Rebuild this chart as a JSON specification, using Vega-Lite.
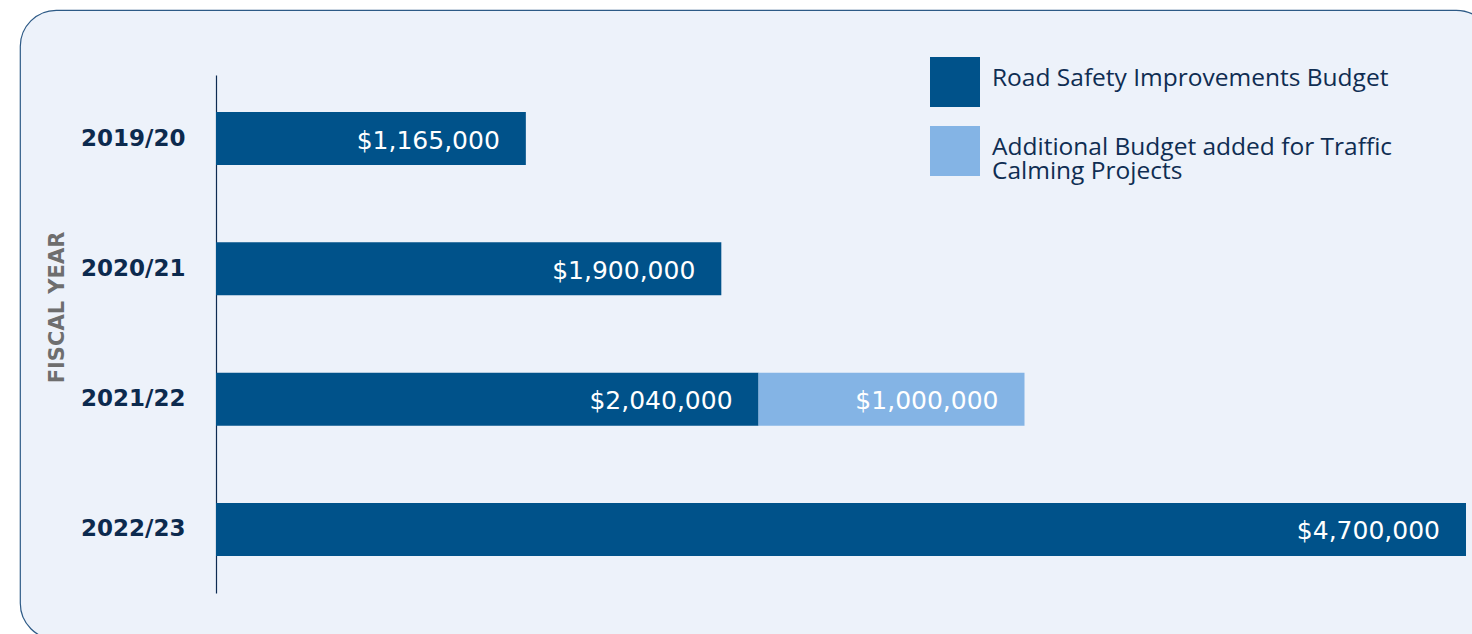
{
  "$schema": "https://vega.github.io/schema/vega-lite/v6.json",
  "width": 1472,
  "height": 629,
  "autosize": {"type": "none"},
  "padding": {"left": 20, "top": 10, "right": -20, "bottom": -5},
  "background": "#ffffff",
  "config": {
    "view": {"fill": "#edf2fa", "stroke": "#2d5a86", "strokeWidth": 1.2, "cornerRadius": 36},
    "font": "Open Sans"
  },
  "data": {
    "values": [
      {"year": "2019/20", "type": "Road Safety Improvements Budget", "amount": 1165000},
      {"year": "2020/21", "type": "Road Safety Improvements Budget", "amount": 1900000},
      {"year": "2021/22", "type": "Road Safety Improvements Budget", "amount": 2040000},
      {"year": "2021/22", "type": "Additional Budget added for Traffic Calming Projects", "amount": 1000000},
      {"year": "2022/23", "type": "Road Safety Improvements Budget", "amount": 4700000}
    ]
  },
  "encoding": {
    "y": {
      "field": "year", "type": "nominal", "sort": null,
      "scale": {"range": [65, 583], "paddingInner": 0.593, "paddingOuter": 0.284},
      "axis": {
        "title": "FISCAL YEAR", "offset": -196, "domain": true, "domainColor": "#0d2b52", "domainWidth": 1.2,
        "ticks": false, "grid": false, "labelPadding": 31, "labelFont": "DejaVu Sans", "labelFontSize": 23, "labelFontWeight": "bold",
        "labelColor": "#0c2a4e", "titleColor": "#6e6e6e", "titleFont": "DejaVu Sans", "titleFontSize": 21, "titleFontWeight": "bold",
        "titleAngle": -90, "titleX": -159, "titleY": 297, "titleAlign": "center", "titleBaseline": "middle"
      }
    },
    "x": {
      "field": "amount", "type": "quantitative", "stack": "zero",
      "scale": {"domain": [0, 4700000], "range": [196, 1446]}, "axis": null
    },
    "order": {"field": "type", "sort": "descending"}
  },
  "layer": [
    {
      "mark": {"type": "bar"},
      "encoding": {
        "color": {
          "field": "type", "type": "nominal",
          "scale": {
            "domain": ["Road Safety Improvements Budget", "Additional Budget added for Traffic Calming Projects"],
            "range": ["#00528a", "#84b4e5"]
          },
          "legend": {
            "title": null, "orient": "none", "legendX": 910, "legendY": 47, "padding": 0,
            "symbolType": "square", "symbolSize": 2500, "symbolStrokeWidth": 0, "symbolOpacity": 1,
            "labelFontSize": 24.5, "labelColor": "#0f2d52", "labelOffset": 12, "rowPadding": 19, "labelLimit": 0,
            "labelExpr": "datum.label == 'Additional Budget added for Traffic Calming Projects' ? ['Additional Budget added for Traffic', 'Calming Projects'] : datum.label",
            "encode": {"labels": {"update": {"lineHeight": {"value": 24}, "dy": {"value": -3}}}}
          }
        }
      }
    },
    {
      "mark": {"type": "text", "align": "right", "baseline": "middle", "dx": -26, "dy": 2, "color": "#ffffff", "font": "DejaVu Sans", "fontSize": 25},
      "encoding": {"text": {"field": "amount", "type": "quantitative", "format": "$,.0f"}}
    }
  ]
}
